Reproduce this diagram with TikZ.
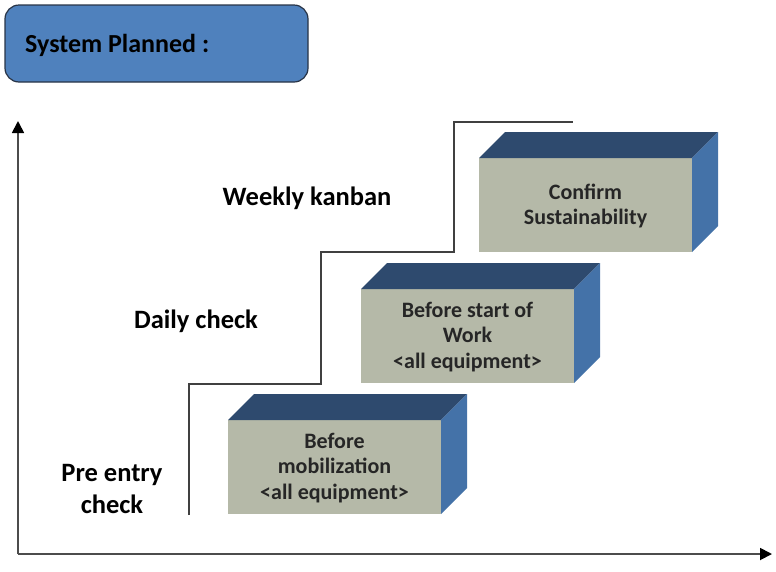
\documentclass[tikz,border=0pt]{standalone}
\usepackage{fontspec}
\setmainfont{Carlito}
\usetikzlibrary{arrows.meta}
\definecolor{titleblue}{RGB}{79,129,189}
\definecolor{titleedge}{RGB}{40,52,70}
\definecolor{frontgray}{RGB}{181,185,168}
\definecolor{topblue}{RGB}{46,74,110}
\definecolor{sideblue}{RGB}{68,114,168}
\begin{document}
\begin{tikzpicture}[x=1pt,y=-1pt,
  title/.style={draw=titleedge,line width=1.2pt,fill=titleblue,rounded corners=14pt},
  stage/.style={font=\bfseries\fontsize{26.5}{32}\selectfont,align=center},
  boxtext/.style={font=\bfseries\fontsize{22}{25.5}\selectfont,align=center,text=black!85},
  axis/.style={line width=1.8pt,black!70,-{Triangle[length=12pt,width=12pt,fill=black,color=black]}}]
 \useasboundingbox (0,0) rectangle (776,571);
 \draw[title](5,5) rectangle (308,82);
 \node[font=\bfseries\fontsize{26}{30}\selectfont,anchor=west,inner sep=0pt] (sys) at (25,45) {System Planned :};
 % axes
 \coordinate (origin) at (18,554);
 \coordinate (ytop) at (18,121);
 \coordinate (xend) at (772,554);
 \draw[axis](origin)--(ytop);
 \draw[axis](origin)--(xend);
 % steps
 \coordinate (s0) at (189,515);
 \draw[line width=1.5pt,black!75](s0) |- (321,384) |- (454,252) |- (573,122);
 % boxes
 \foreach \x/\y in {228/420,361/289,479/158}{
  \fill[frontgray](\x,\y) rectangle ++(213,94);
  \fill[topblue](\x,\y)--++(26,-26)--++(213,0)--++(-26,26)--cycle;
  \fill[sideblue](\x+213,\y)--++(26,-26)--++(0,94)--++(-26,26)--cycle;
 }
 \node[boxtext] (b1) at (334.5,468) {Before\\mobilization\\<all equipment>};
 \node[boxtext] (b2) at (467.5,337) {Before start of\\Work\\<all equipment>};
 \node[boxtext] (b3) at (585.5,206) {Confirm\\Sustainability};
 \node[stage] (weekly) at (307,198) {Weekly kanban};
 \node[stage] (daily) at (196,321) {Daily check};
 \node[stage] (pre) at (112,489) {Pre entry\\check};
\end{tikzpicture}
\end{document}
